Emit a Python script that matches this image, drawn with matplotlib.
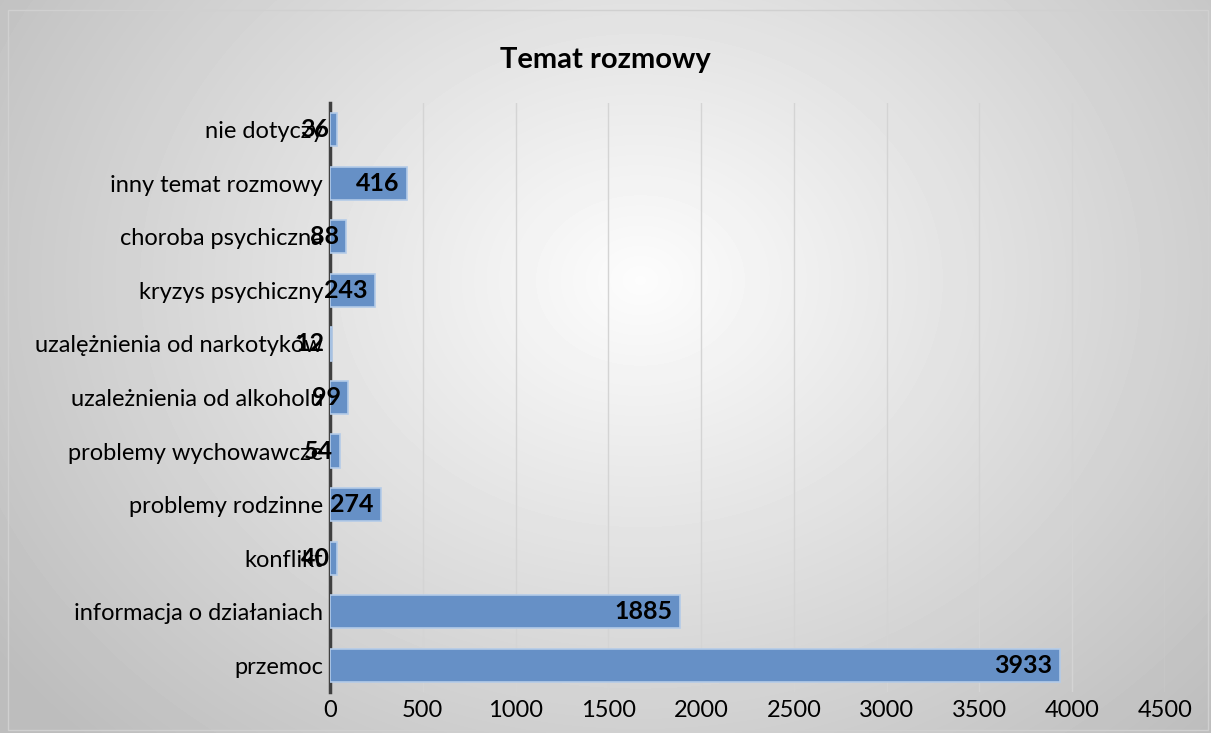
import numpy as np
import matplotlib.pyplot as plt

plt.rcParams['font.family'] = ['Lato', 'DejaVu Sans']

# data, bottom to top as drawn
categories = ['przemoc', 'informacja o działaniach', 'konflikt', 'problemy rodzinne',
              'problemy wychowawcze', 'uzależnienia od alkoholu', 'uzalężnienia od narkotyków',
              'kryzys psychiczny', 'choroba psychiczna', 'inny temat rozmowy', 'nie dotyczy']
values = [3933, 1885, 40, 274, 54, 99, 12, 243, 88, 416, 36]
xticks = [0, 500, 1000, 1500, 2000, 2500, 3000, 3500, 4000, 4500]

fig = plt.figure(figsize=(12.11, 7.33), dpi=100)

# radial gradient background (Excel style)
bg = fig.add_axes([0, 0, 1, 1], zorder=0)
yy, xx = np.mgrid[0:733, 0:1211]
r = np.sqrt(((xx - 640) / 760.0) ** 2 + ((yy - 280) / 620.0) ** 2)
shade = np.clip(0.99 - 0.24 * r, 0.74, 1.0)
bg.imshow(shade, cmap='gray', vmin=0, vmax=1, aspect='auto', extent=[0, 1211, 733, 0])
bg.add_patch(plt.Rectangle((8, 10), 1200, 720, fill=False, edgecolor='#d0d0d0', lw=1))
bg.set_xlim(0, 1211)
bg.set_ylim(733, 0)
bg.axis('off')

ax = fig.add_axes([330 / 1211, 1 - 692 / 733, (1165 - 330) / 1211, (692 - 103) / 733], zorder=1)
ax.patch.set_alpha(0)

y = np.arange(len(categories))
ax.barh(y, values, height=0.62, color='#6690c6', edgecolor='#b4cbe8', linewidth=1.2, zorder=3)

for yi, v in zip(y, values):
    ax.text(v - 40, yi, str(v), ha='right', va='center', fontsize=18,
            fontweight='bold', color='black', zorder=4)

ax.set_yticks(y)
ax.set_yticklabels(categories, fontsize=17)
ax.set_xticks(xticks)
ax.set_xticklabels([str(t) for t in xticks], fontsize=17)
ax.set_xlim(0, 4500)
ax.set_ylim(-0.5, len(categories) - 0.5)

ax.grid(axis='x', color='#d4d4d4', linewidth=1, zorder=0)
ax.tick_params(axis='y', length=0, pad=5)
ax.tick_params(axis='x', length=0, pad=6)
for s in ['top', 'right', 'bottom']:
    ax.spines[s].set_visible(False)
ax.spines['left'].set_color('#404040')
ax.spines['left'].set_linewidth(2.5)

fig.text(0.5, 1 - 60 / 733, 'Temat rozmowy', ha='center', va='center',
         fontsize=21, fontweight='bold')

fig.savefig('out.png', dpi=100)
